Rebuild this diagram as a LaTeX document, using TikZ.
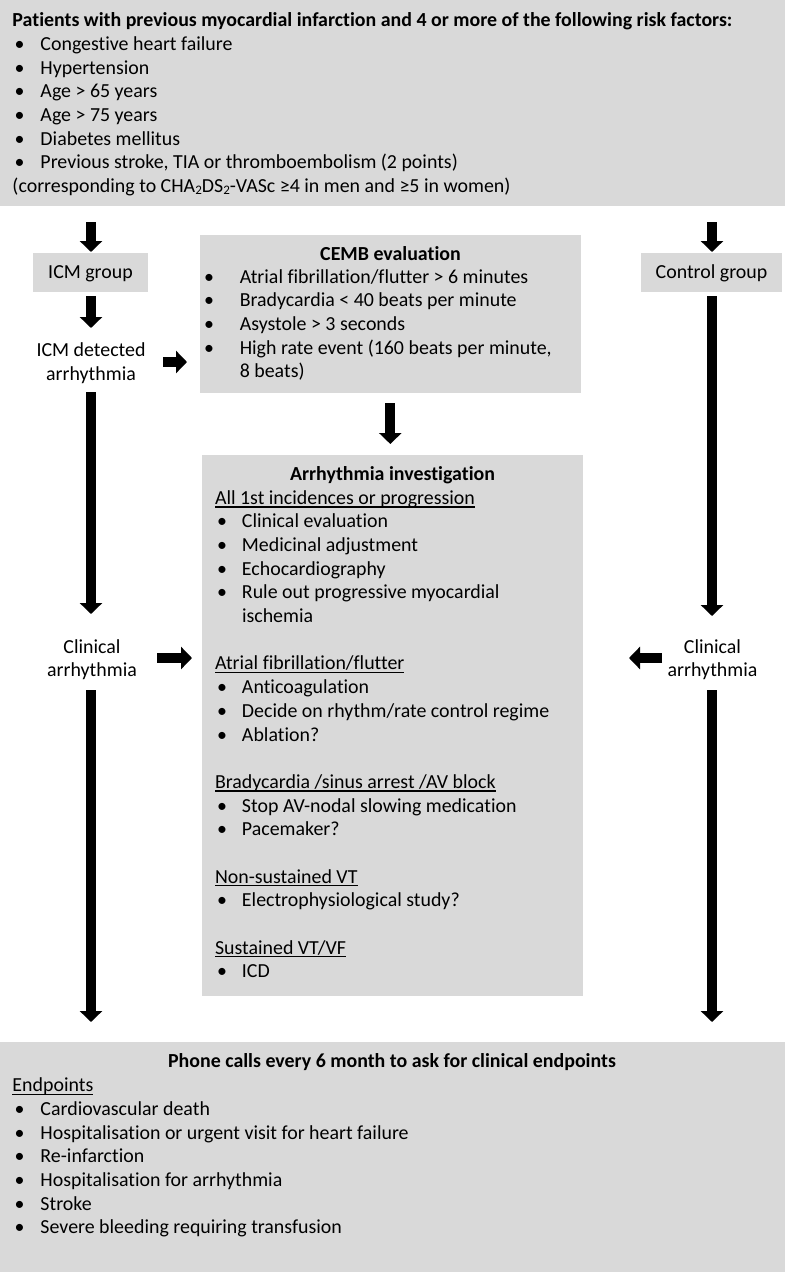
\documentclass[tikz,border=0pt]{standalone}
\usepackage{fontspec}
\setmainfont[Ligatures=NoCommon]{Carlito}
\usetikzlibrary{arrows.meta}
\definecolor{boxgray}{HTML}{D9D9D9}
\newcommand\fs{\fontsize{19.9pt}{23.67pt}\selectfont}
\newsavebox\ulbox
\newcommand\ulx[1]{\sbox\ulbox{#1}\rlap{\rule[-3.2pt]{\wd\ulbox}{1.2pt}}\usebox\ulbox}
\newcommand\bl[3]{\hbox{\kern#1\makebox[0pt]{\textbullet}\kern\dimexpr#2-#1\relax#3}}
\newcommand\pl[2]{\hbox{\kern#1#2}}
\newcommand\sub[1]{\raisebox{-2.6pt}{\fontsize{13pt}{13pt}\selectfont #1}}
\newcommand\lst[1]{\vtop{\baselineskip=23.67pt\lineskiplimit=-1000pt\lineskip=0pt #1}}
\begin{document}
\begin{tikzpicture}[x=1pt,y=-1pt,
  graybox/.style={fill=boxgray, draw=none, inner sep=0pt, outer sep=0pt, anchor=north west},
  txt/.style={inner sep=0pt, outer sep=0pt, font=\fs},
  fat/.style={line width=10pt, -{Triangle[width=22pt,length=11pt]}}]
\useasboundingbox (0,0) rectangle (785,1272);
% boxes
\node[graybox, minimum width=785pt, minimum height=206pt] (topbox) at (0,0) {};
\node[graybox, minimum width=114.4pt, minimum height=39pt] (icmbox) at (33.3,252.7) {};
\node[graybox, minimum width=381pt, minimum height=158pt] (cembbox) at (200,235) {};
\node[graybox, minimum width=141pt, minimum height=39pt] (ctrlbox) at (641,253) {};
\node[graybox, minimum width=381pt, minimum height=541pt] (arrbox) at (202,455) {};
\node[graybox, minimum width=785pt, minimum height=230pt] (botbox) at (0,1042) {};
% top text
\node[txt, anchor=base west] (toptext) at (12.5,26.7) {\lst{%
\hbox{\textbf{Patients with previous myocardial infarction and 4 or more of the following risk factors:}}
\bl{7pt}{28pt}{Congestive heart failure}
\bl{7pt}{28pt}{Hypertension}
\bl{7pt}{28pt}{Age > 65 years}
\bl{7pt}{28pt}{Age > 75 years}
\bl{7pt}{28pt}{Diabetes mellitus}
\bl{7pt}{28pt}{Previous stroke, TIA or thromboembolism (2 points)}
\hbox{(corresponding to CHA\sub{2}DS\sub{2}-VASc ≥4 in men and ≥5 in women)}}};
% small boxes text
\node[txt, anchor=base] (icmtext) at (90.5,278.3) {ICM group};
\node[txt, anchor=base] (ctrltext) at (711.5,278.3) {Control group};
\node[txt, anchor=base] (detected) at (91,356.7) {\begin{tabular}[t]{@{}c@{}}ICM detected\\arrhythmia\end{tabular}};
\node[txt, anchor=base] (clinL) at (92,653.3) {\begin{tabular}[t]{@{}c@{}}Clinical\\arrhythmia\end{tabular}};
\node[txt, anchor=base] (clinR) at (712.5,653.3) {\begin{tabular}[t]{@{}c@{}}Clinical\\arrhythmia\end{tabular}};
% CEMB
\node[txt, anchor=base] (cembtitle) at (390.5,260) {\textbf{CEMB evaluation}};
\node[txt, anchor=base west] (cembtext) at (200,283.3) {\lst{%
\bl{9pt}{39.8pt}{Atrial fibrillation/flutter > 6 minutes}
\bl{9pt}{39.8pt}{Bradycardia < 40 beats per minute}
\bl{9pt}{39.8pt}{Asystole > 3 seconds}
\bl{9pt}{39.8pt}{High rate event (160 beats per minute,}
\pl{39.8pt}{8 beats)}}};
% Arrhythmia investigation
\node[txt, anchor=base] (arrtitle) at (392.5,480.7) {\textbf{Arrhythmia investigation}};
\node[txt, anchor=base west] (arrtext) at (215,504.3) {\lst{%
\hbox{\ulx{All 1st incidences or progression}}
\bl{7pt}{27pt}{Clinical evaluation}
\bl{7pt}{27pt}{Medicinal adjustment}
\bl{7pt}{27pt}{Echocardiography}
\bl{7pt}{27pt}{Rule out progressive myocardial}
\pl{27pt}{ischemia}
\hbox{}
\hbox{\ulx{Atrial fibrillation/flutter}}
\bl{7pt}{27pt}{Anticoagulation}
\bl{7pt}{27pt}{Decide on rhythm/rate control regime}
\bl{7pt}{27pt}{Ablation?}
\hbox{}
\hbox{\ulx{Bradycardia /sinus arrest /AV block}}
\bl{7pt}{27pt}{Stop AV-nodal slowing medication}
\bl{7pt}{27pt}{Pacemaker?}
\hbox{}
\hbox{\ulx{Non-sustained VT}}
\bl{7pt}{27pt}{Electrophysiological study?}
\hbox{}
\hbox{\ulx{Sustained VT/VF}}
\bl{7pt}{27pt}{ICD}}};
% bottom
\node[txt, anchor=base] (bottitle) at (392,1067.3) {\textbf{Phone calls every 6 month to ask for clinical endpoints}};
\node[txt, anchor=base west] (bottext) at (12.5,1091.7) {\lst{%
\hbox{\ulx{Endpoints}}
\bl{7pt}{28pt}{Cardiovascular death}
\bl{7pt}{28pt}{Hospitalisation or urgent visit for heart failure}
\bl{7pt}{28pt}{Re-infarction}
\bl{7pt}{28pt}{Hospitalisation for arrhythmia}
\bl{7pt}{28pt}{Stroke}
\bl{7pt}{28pt}{Severe bleeding requiring transfusion}}};
% arrow end points
\coordinate (a1s) at (91,222);  \coordinate (a1e) at (91,252);
\coordinate (a2s) at (91,296);  \coordinate (a2e) at (91,328);
\coordinate (a3s) at (163,362); \coordinate (a3e) at (187,362);
\coordinate (a4s) at (91,392);  \coordinate (a4e) at (91,614);
\coordinate (a5s) at (390.3,403); \coordinate (a5e) at (390.3,444);
\coordinate (a6s) at (157,658); \coordinate (a6e) at (192,658);
\coordinate (a7s) at (712,222); \coordinate (a7e) at (712,252);
\coordinate (a8s) at (712,296); \coordinate (a8e) at (712,616);
\coordinate (a9s) at (662,658); \coordinate (a9e) at (629,658);
\coordinate (a10s) at (91,690); \coordinate (a10e) at (91,1022);
\coordinate (a11s) at (712,690); \coordinate (a11e) at (712,1022);
\foreach \n in {1,...,11} {\draw[fat] (a\n s) -- (a\n e);}
\end{tikzpicture}
\end{document}
